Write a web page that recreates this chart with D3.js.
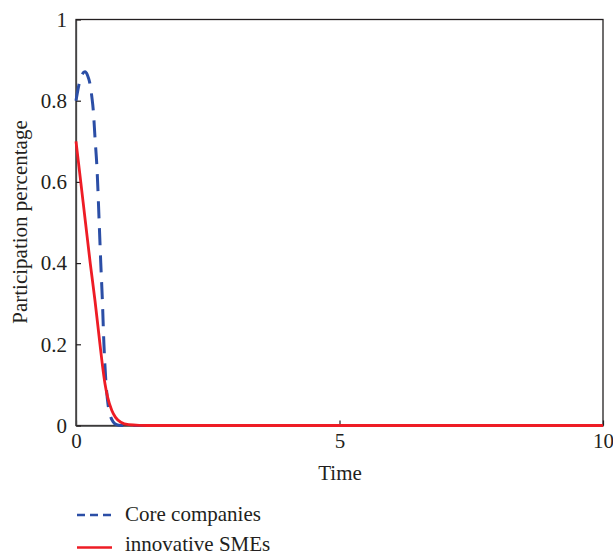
<!DOCTYPE html>
<html>
<head>
<meta charset="utf-8">
<script src="https://cdn.jsdelivr.net/npm/d3@7"></script>
<style>
body{margin:0;background:#fff;}
svg text{font-family:"Times New Roman","Liberation Serif","DejaVu Serif",serif !important;fill:#231f20;}
</style>
</head>
<body>
<svg width="613" height="556"></svg>
<script>
// czas i udzial
var coreT = [0,0.05,0.1,0.17,0.22,0.27,0.3,0.33,0.36,0.4,0.44,0.47,0.5,0.53,0.57,0.61,0.65,0.7,0.77,0.85,1,10];
var coreV = [0.8,0.836,0.86,0.871,0.862,0.838,0.81,0.773,0.71,0.629,0.5,0.4,0.31,0.2,0.103,0.05,0.025,0.01,0.002,0,0,0];
var smeT = [0,0.09,0.18,0.27,0.36,0.455,0.5,0.55,0.6,0.68,0.75,0.85,1.0,1.2,1.5,10];
var smeV = [0.70,0.6,0.5,0.4,0.308,0.2,0.15,0.103,0.07,0.037,0.02,0.008,0.002,0.0005,0,0];
var xTicks = [0,5,10];
var yTicks = [0,0.2,0.4,0.6,0.8,1];
var names = ["Core companies","innovative SMEs"];

var svg = d3.select("svg");
var mLeft = 76, mRight = 603, mTop = 19.5, mBottom = 425.5;
var fs = "21px";

var x = d3.scaleLinear().domain([0,10]).range([mLeft,mRight]);
var y = d3.scaleLinear().domain([0,1]).range([mBottom,mTop]);

// ramka
svg.append("rect")
	.attr("x", mLeft).attr("y", mTop)
	.attr("width", mRight-mLeft).attr("height", mBottom-mTop)
	.style("fill","none").style("stroke","#231f20").style("stroke-width",1.3);

var xAxis = svg.append("g")
	.attr("transform","translate(0,"+mBottom+")")
	.call(d3.axisBottom(x).tickValues(xTicks).tickSizeInner(-5).tickSizeOuter(0).tickPadding(8).tickFormat(d3.format("d")));
var yAxis = svg.append("g")
	.attr("transform","translate("+mLeft+",0)")
	.call(d3.axisLeft(y).tickValues(yTicks).tickSizeInner(-5).tickSizeOuter(0).tickPadding(9).tickFormat(function(d){return d3.format("~g")(d);}));
[xAxis,yAxis].forEach(function(a){
	a.attr("font-family", null);
	a.select(".domain").style("stroke","#444").style("stroke-width",1.3);
	a.selectAll(".tick line").style("stroke","#231f20").style("stroke-width",1.2);
	a.selectAll("text").style("font-size",fs).attr("fill","#231f20");
});

var line = d3.line().curve(d3.curveMonotoneX)
	.x(function(d){return x(d[0]);})
	.y(function(d){return y(d[1]);});

svg.append("path")
	.datum(d3.zip(coreT,coreV))
	.attr("d", line)
	.style("fill","none").style("stroke","#2b4ea6").style("stroke-width",3)
	.style("stroke-dasharray","17,10");
svg.append("path")
	.datum(d3.zip(smeT,smeV))
	.attr("d", line)
	.style("fill","none").style("stroke","#ee1c25").style("stroke-width",2.8);

// opisy osi
svg.append("text")
	.attr("x", 340).attr("y", 480)
	.attr("text-anchor","middle")
	.style("font-size",fs)
	.text("Time");
svg.append("text")
	.attr("transform","translate(27,222) rotate(-90)")
	.attr("text-anchor","middle")
	.style("font-size",fs)
	.text("Participation percentage");

// legenda
var leg = [{c:"#2b4ea6",dash:"8,5",y:515,ty:520.5},{c:"#ee1c25",dash:null,y:547.5,ty:551}];
leg.forEach(function(l,i){
	svg.append("line")
		.attr("x1",77).attr("x2",112).attr("y1",l.y).attr("y2",l.y)
		.style("stroke",l.c).style("stroke-width",2.5)
		.style("stroke-dasharray",l.dash);
	svg.append("text")
		.attr("x",125).attr("y",l.ty)
		.style("font-size",fs)
		.text(names[i]);
});
</script>
</body>
</html>
